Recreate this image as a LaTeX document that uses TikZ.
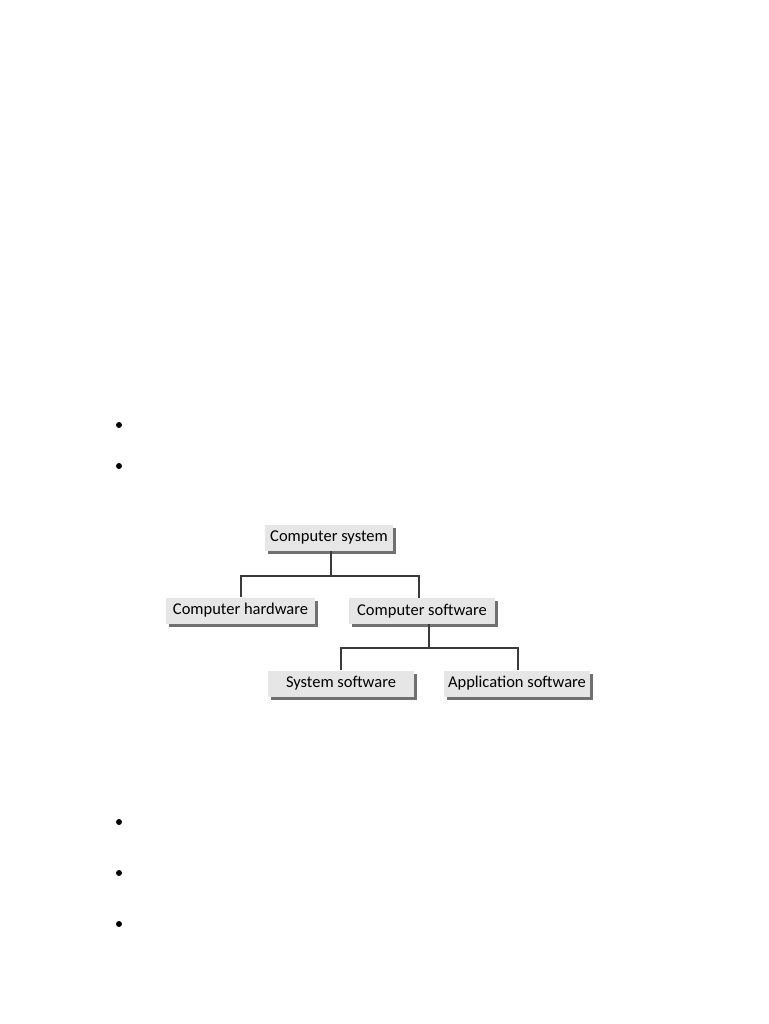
\documentclass[tikz,border=0pt]{standalone}
\usepackage{fontspec}
\setmainfont{Carlito}
\usetikzlibrary{shadows}
\definecolor{boxfill}{HTML}{E6E6E6}
\definecolor{shadowc}{HTML}{707070}
\definecolor{linec}{HTML}{3A3A3A}
\tikzset{
  box/.style={fill=boxfill, inner sep=0pt, minimum height=26pt,
    font=\fontsize{16.5}{18}\selectfont,
    drop shadow={shadow xshift=3pt, shadow yshift=-3pt, fill=shadowc, opacity=1}},
  conn/.style={draw=linec, line width=1.3pt},
  bullet/.style={circle, fill=black, inner sep=0pt, minimum size=6pt}
}
\begin{document}
\begin{tikzpicture}[x=1pt,y=-1pt]
\useasboundingbox (0,0) rectangle (768,1024);
\node[box, minimum width=128pt] (cs) at (329,537.5) {Computer system};
\node[box, minimum width=149pt] (ch) at (240.5,610.5) {Computer hardware};
\node[box, minimum width=146pt] (csw) at (422,611) {Computer software};
\node[box, minimum width=146pt] (ss) at (341,683.5) {System software};
\node[box, minimum width=146pt] (as) at (517,683.5) {Application software};
\coordinate (j1) at (331,576);
\coordinate (j2) at (429,648);
\draw[conn] ([xshift=2pt]cs.south) -- (j1);
\draw[conn] ([xshift=0.5pt]ch.north) |- (j1) -| ([xshift=-3pt]csw.north);
\draw[conn] ([xshift=7pt]csw.south) -- (j2);
\draw[conn] (ss.north) |- (j2) -| ([xshift=1pt]as.north);
\node[bullet] (b1) at (119,425) {};
\node[bullet] (b2) at (119,466) {};
\node[bullet] (b3) at (119,822) {};
\node[bullet] (b4) at (119,873) {};
\node[bullet] (b5) at (119,924) {};
\end{tikzpicture}
\end{document}
